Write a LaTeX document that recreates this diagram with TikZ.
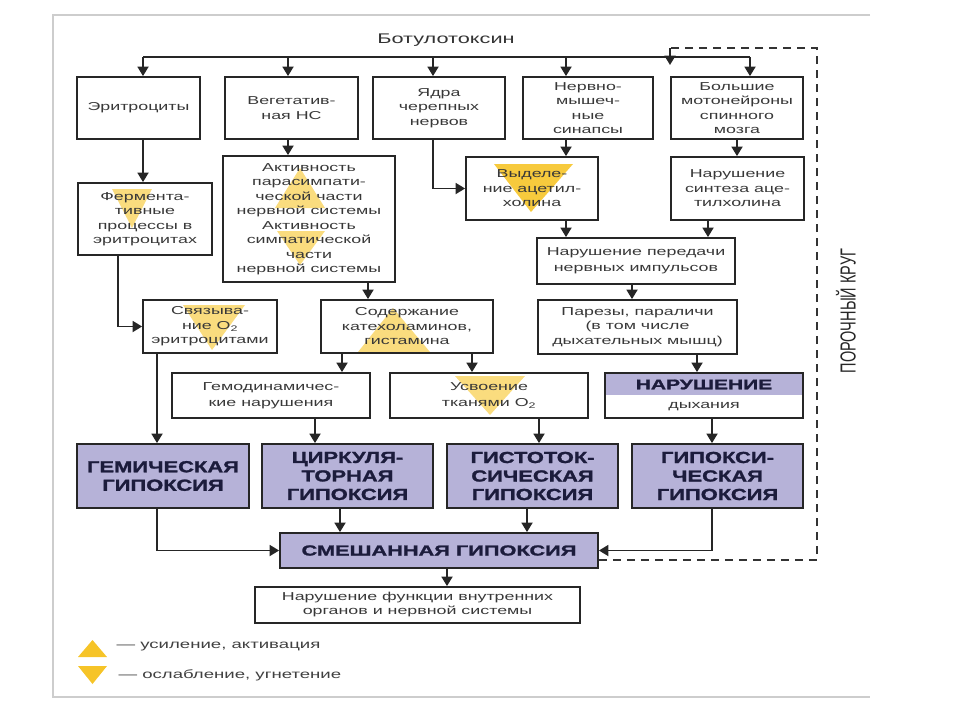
\documentclass[tikz,border=0pt]{standalone}
\usepackage{fontspec}
\setmainfont[FakeStretch=1.55]{Liberation Sans}
\newfontfamily\hyfont[FakeStretch=1.37,FakeBold=1.6]{Liberation Sans Bold}
\newfontfamily\hyfontw[FakeStretch=1.5,FakeBold=1.6]{Liberation Sans Bold}
\newfontfamily\plainfont{Liberation Sans}
\usetikzlibrary{arrows.meta}
\definecolor{lav}{RGB}{182,178,216}
\definecolor{navy}{RGB}{28,28,60}
\definecolor{triyel}{RGB}{246,196,40}
\definecolor{framegray}{RGB}{205,205,205}
\tikzset{
 box/.style={draw=black!85, line width=1.8pt, align=center, inner sep=0pt, text=black!78, font=\fontsize{11.5}{14.5}\selectfont},
 hbox/.style={box, fill=lav, text=navy, font=\hyfont\fontsize{16}{18.5}\selectfont},
 arr/.style={line width=1.8pt, draw=black!85, -{Triangle[width=11pt,length=9.5pt]}},
 ln/.style={line width=1.8pt, draw=black!85},
 dsh/.style={line width=1.9pt, draw=black!80, dash pattern=on 8pt off 6pt},
 trif/.style={fill=triyel, opacity=0.6},
 legtext/.style={anchor=west, text=black!75, font=\fontsize{12}{14}\selectfont},
}
\begin{document}
\begin{tikzpicture}[x=1pt,y=-1pt]
\useasboundingbox (0,0) rectangle (960,720);
% frame
\draw[draw=framegray, line width=1.5pt] (870,15) -- (53,15) -- (53,697) -- (870,697);
% highlight triangles
\fill[trif] (112,189) -- (152,189) -- (132,228) -- cycle;
\fill[trif] (300,168) -- (325,208) -- (275,208) -- cycle;
\fill[trif] (277,231) -- (325,231) -- (300,265) -- cycle;
\fill[trif, opacity=0.9] (494,164) -- (573,164) -- (531,212) -- cycle;
\fill[trif] (183,305) -- (245,305) -- (212,350) -- cycle;
\fill[trif] (393,308) -- (430,352) -- (358,352) -- cycle;
\fill[trif] (455,376) -- (525,376) -- (490,415) -- cycle;
% title and bus
\node[text=black!80, font=\fontsize{14}{16}\selectfont] (title) at (446,40) {Ботулотоксин};
\coordinate (b1) at (143,57);
\coordinate (b2) at (288,57);
\coordinate (b3) at (433,57);
\coordinate (b4) at (566,57);
\coordinate (b5) at (750,57);
\coordinate (bd) at (670,65);
\draw[ln] (b1) -- (b5);
% row 1
\node[box, minimum width=123, minimum height=62] (eri) at (138.5,108) {Эритроциты};
\node[box, minimum width=133, minimum height=62] (veg) at (291.5,108) {Вегетатив-\\ная НС};
\node[box, minimum width=132, minimum height=62] (yad) at (439,108) {Ядра\\черепных\\нервов};
\node[box, minimum width=130, minimum height=62] (ner) at (588,108) {Нервно-\\мышеч-\\ные\\синапсы};
\node[box, minimum width=132, minimum height=62] (bol) at (737,108) {Большие\\мотонейроны\\спинного\\мозга};
% row 2
\node[box, minimum width=134, minimum height=72] (fer) at (145,219) {Фермента-\\тивные\\процессы в\\эритроцитах};
\node[box, minimum width=172, minimum height=126] (act) at (309,219) {Активность\\парасимпати-\\ческой части\\нервной системы\\Активность\\симпатической\\части\\нервной системы};
\node[box, minimum width=132, minimum height=63] (vyd) at (532,188.5) {Выделе-\\ние ацетил-\\холина};
\node[box, minimum width=133, minimum height=63] (sin) at (737.5,188.5) {Нарушение\\синтеза аце-\\тилхолина};
\node[box, minimum width=198, minimum height=46, font=\fontsize{11.5}{16}\selectfont] (per) at (636,261) {Нарушение передачи\\нервных импульсов};
% row 3
\node[box, minimum width=134, minimum height=53] (svy) at (210,326.5) {Связыва-\\ние O\textsubscript{2}\\эритроцитами};
\node[box, minimum width=172, minimum height=53] (sod) at (407,326.5) {Содержание\\катехоламинов,\\гистамина};
\node[box, minimum width=199, minimum height=54] (par) at (637.5,327) {Парезы, параличи\\(в том числе\\дыхательных мышц)};
% row 4
\node[box, minimum width=198, minimum height=45, font=\fontsize{11.5}{16}\selectfont] (gem) at (271,395.5) {Гемодинамичес-\\кие нарушения};
\node[box, minimum width=198, minimum height=45, font=\fontsize{11.5}{16}\selectfont] (usv) at (489,395.5) {Усвоение\\тканями O\textsubscript{2}};
\fill[lav] (605,373) rectangle (803,395);
\node[box, minimum width=198, minimum height=45] (dyh) at (704,395.5) {};
\node[text=navy, font=\hyfontw\fontsize{14}{16}\selectfont] (dyhA) at (704,384.5) {НАРУШЕНИЕ};
\node[text=black!78, font=\fontsize{11.5}{14}\selectfont] (dyhB) at (704,407) {дыхания};
% row 5
\node[hbox, minimum width=172, minimum height=64] (hem) at (163,476) {ГЕМИЧЕСКАЯ\\ГИПОКСИЯ};
\node[hbox, minimum width=171, minimum height=64] (cir) at (347.5,476) {ЦИРКУЛЯ-\\ТОРНАЯ\\ГИПОКСИЯ};
\node[hbox, minimum width=171, minimum height=64] (his) at (532.5,476) {ГИСТОТОК-\\СИЧЕСКАЯ\\ГИПОКСИЯ};
\node[hbox, minimum width=171, minimum height=64] (hyp) at (717.5,476) {ГИПОКСИ-\\ЧЕСКАЯ\\ГИПОКСИЯ};
\node[hbox, minimum width=318, minimum height=35, font=\hyfontw\fontsize{14.5}{16}\selectfont] (mix) at (439,550.5) {СМЕШАННАЯ ГИПОКСИЯ};
\node[box, minimum width=325, minimum height=36, font=\fontsize{11.5}{14}\selectfont] (fun) at (417.5,605) {Нарушение функции внутренних\\органов и нервной системы};
% bus arrows
\draw[arr] (b1) -- (eri.north -| b1);
\draw[arr] (b2) -- (veg.north -| b2);
\draw[arr] (b3) -- (yad.north -| b3);
\draw[arr] (b4) -- (ner.north -| b4);
\draw[arr] (b5) -- (bol.north -| b5);
% connectors
\draw[arr] (eri.south -| 143,0) -- (fer.north -| 143,0);
\draw[arr] (veg.south -| 288,0) -- (act.north -| 288,0);
\draw[arr] (yad.south -| 433,0) |- (vyd.west);
\draw[arr] (ner.south -| 566,0) -- (vyd.north -| 566,0);
\draw[arr] (bol.south -| 737,0) -- (sin.north -| 737,0);
\draw[arr] (vyd.south -| 566,0) -- (per.north -| 566,0);
\draw[arr] (sin.south -| 708,0) -- (per.north -| 708,0);
\draw[arr] (fer.south -| 118,0) |- (svy.west);
\draw[arr] (act.south -| 368,0) -- (sod.north -| 368,0);
\draw[arr] (per.south -| 632,0) -- (par.north -| 632,0);
\draw[arr] (sod.south -| 342,0) -- (gem.north -| 342,0);
\draw[arr] (sod.south -| 472,0) -- (usv.north -| 472,0);
\draw[arr] (par.south -| 697,0) -- (dyh.north -| 697,0);
\draw[arr] (svy.south -| 157,0) -- (hem.north -| 157,0);
\draw[arr] (gem.south -| 315,0) -- (cir.north -| 315,0);
\draw[arr] (usv.south -| 539,0) -- (his.north -| 539,0);
\draw[arr] (dyh.south -| 712,0) -- (hyp.north -| 712,0);
\draw[arr] (hem.south -| 157,0) |- (mix.west);
\draw[arr] (cir.south -| 340,0) -- (mix.north -| 340,0);
\draw[arr] (his.south -| 527,0) -- (mix.north -| 527,0);
\draw[arr] (hyp.south -| 712,0) |- (mix.east);
\draw[arr] (mix.south -| 447,0) -- (fun.north -| 447,0);
% vicious circle
\coordinate (d1) at (817,560);
\coordinate (d2) at (817,48);
\coordinate (d3) at (670,48);
\draw[dsh] (mix.east |- 0,560) -- (d1) -- (d2) -- (d3);
\draw[arr] (d3) -- (bd);
\node[rotate=90, text=black!85] (vc) at (846,311) {\plainfont\fontsize{14.5}{15}\selectfont\scalebox{1}[1.5]{ПОРОЧНЫЙ КРУГ}};
% legend
\fill[triyel] (78,657) -- (107,657) -- (92.5,640) -- cycle;
\fill[triyel] (78,666) -- (107,666) -- (92.5,684) -- cycle;
\node[legtext] (leg1) at (113,647) {— усиление, активация};
\node[legtext] (leg2) at (115,675) {— ослабление, угнетение};
\end{tikzpicture}
\end{document}
